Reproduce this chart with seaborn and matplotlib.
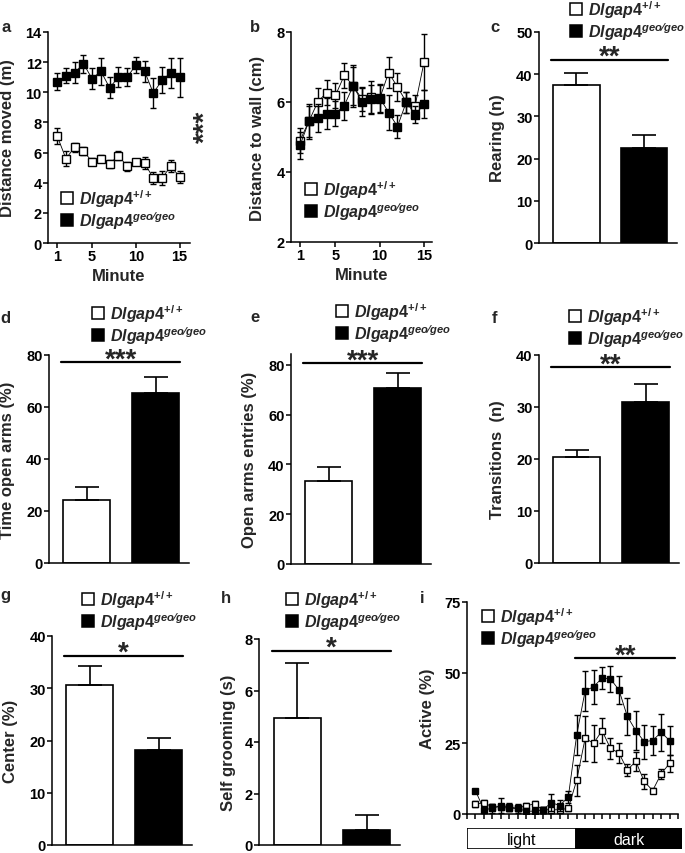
import numpy as np
import pandas as pd
import matplotlib
matplotlib.use("Agg")
import matplotlib.pyplot as plt
from matplotlib.lines import Line2D
import seaborn as sns

# ---- data ----
minutes = list(range(1, 16))

a_wt = [7.1, 5.6, 6.35, 6.1, 5.4, 5.6, 5.25, 5.8, 5.1, 5.35, 5.3, 4.3, 4.3, 5.1, 4.4]
a_wt_err = [0.5, 0.5, 0.3, 0.25, 0.25, 0.25, 0.25, 0.3, 0.3, 0.2, 0.4, 0.4, 0.45, 0.4, 0.4]
a_ko = [10.7, 11.1, 11.3, 11.9, 10.9, 11.4, 10.3, 11.0, 11.0, 11.8, 11.4, 9.95, 10.8, 11.3, 11.0]
a_ko_err = [0.55, 0.5, 0.7, 0.6, 0.7, 0.9, 0.7, 0.65, 0.6, 0.55, 0.7, 1.0, 0.85, 1.0, 1.3]

b_wt = [4.9, 5.45, 6.0, 6.27, 6.19, 6.76, 6.46, 6.08, 6.15, 6.1, 6.84, 6.43, 6.0, 5.9, 7.14]
b_wt_err = [0.35, 0.45, 0.4, 0.35, 0.35, 0.35, 0.55, 0.35, 0.45, 0.4, 0.45, 0.4, 0.3, 0.3, 0.8]
b_ko = [4.76, 5.45, 5.54, 5.67, 5.67, 5.9, 6.46, 6.0, 6.08, 6.12, 5.7, 5.3, 6.0, 5.64, 5.93]
b_ko_err = [0.38, 0.5, 0.4, 0.45, 0.35, 0.4, 0.6, 0.4, 0.42, 0.4, 0.5, 0.33, 0.3, 0.25, 0.4]

hours = list(range(24))
i_wt = [3.5, 4, 2.5, 2.5, 2, 2, 3, 3.5, 1.5, 1.5, 1.5, 2,
        12, 26.8, 25, 29.5, 23.2, 21.6, 15.6, 18.6, 11.5, 8.3, 14.2, 17.9]
i_wt_err = [1, 1, 1, 1, 1, 1, 1, 1, 1, 1, 1, 1,
            5.5, 8, 6.5, 4.5, 3.8, 3.4, 2, 3.4, 2.5, 1, 1.8, 3]
i_ko = [8.3, 1.5, 2, 3, 2.5, 2, 1, 1, 1.5, 4, 3, 6,
        28, 43.6, 45, 48.1, 47.8, 43.9, 34.5, 29.5, 25.6, 26, 28.9, 26]
i_ko_err = [0.5, 1, 1.5, 2.5, 1.5, 1.5, 1, 1, 1, 3, 2, 2,
            7, 7, 6, 4, 4.5, 5, 6.5, 7, 6, 5, 6.5, 5]

groups = ["wt", "geo"]
c_vals, c_err = [37.5, 22.5], [2.7, 3.0]
d_vals, d_err = [24.4, 65.4], [4.8, 6.3]
e_vals, e_err = [33.5, 70.7], [5.5, 6.0]
f_vals, f_err = [20.3, 31.0], [1.5, 3.4]
g_vals, g_err = [30.7, 18.2], [3.5, 2.3]
h_vals, h_err = [4.94, 0.6], [2.14, 0.58]

lab_wt = r"$\mathit{Dlgap4}^{\mathit{+/+}}$"
lab_ko = "$\\mathit{Dlgap4}^{\\mathit{geo\u2044geo}}$"

sns.set_style("ticks")
plt.rcParams["font.family"] = ["Liberation Sans", "DejaVu Sans"]
plt.rcParams["font.weight"] = "bold"
plt.rcParams["axes.labelweight"] = "bold"
plt.rcParams["mathtext.fontset"] = "custom"
plt.rcParams["mathtext.it"] = "Liberation Sans:italic:bold"
plt.rcParams["mathtext.rm"] = "Liberation Sans:bold"
plt.rcParams["mathtext.bf"] = "Liberation Sans:bold"

W, H = 685, 854
fig = plt.figure(figsize=(W / 100, H / 100), dpi=100)


def add_ax(l, r, top, bot):
    return fig.add_axes([l / W, 1 - bot / H, (r - l) / W, (bot - top) / H])


def style(ax, ylabel, lx):
    for s in ["top", "right"]:
        ax.spines[s].set_visible(False)
    for s in ["left", "bottom"]:
        ax.spines[s].set_linewidth(1.1)
        ax.spines[s].set_color("black")
    ax.tick_params(axis="both", length=3.5, width=1.1, pad=1, labelsize=10.5, colors="black")
    ax.set_ylabel(ylabel, fontsize=12, fontweight="bold")
    ax.yaxis.set_label_coords(lx, 0.5)


def legend(ax, x, y, ms=9):
    h = [Line2D([], [], ls="none", marker="s", ms=ms, mfc="white", mec="black", mew=1.1),
         Line2D([], [], ls="none", marker="s", ms=ms, mfc="black", mec="black", mew=1.1)]
    ax.legend(h, [lab_wt, lab_ko], loc="center left", bbox_to_anchor=(x / W, 1 - y / H),
              bbox_transform=fig.transFigure, frameon=False, borderpad=0, borderaxespad=0,
              handlelength=0.8, handletextpad=0.3, labelspacing=0.0, fontsize=11.5)


def sig(ax, x0, x1, y, stars):
    ax.plot([x0, x1], [y, y], color="black", lw=1.6, clip_on=False)
    ax.annotate(stars, xy=((x0 + x1) / 2, y), xytext=(0, -3), textcoords="offset points",
                ha="center", va="baseline", fontsize=20, fontweight="bold", annotation_clip=False)


def panel_label(x, y, s):
    fig.text(x / W, 1 - y / H, s, fontsize=12, fontweight="bold", va="baseline", ha="left")


def line_panel(ax, x, wt, wt_e, ko, ko_e, ms, cap):
    ax.errorbar(x, wt, yerr=wt_e, fmt="none", ecolor="black", elinewidth=1, capsize=cap, capthick=1, zorder=2)
    sns.lineplot(x=x, y=wt, ax=ax, color="black", lw=0.6, marker="s", markersize=ms,
                 markerfacecolor="white", markeredgecolor="black", markeredgewidth=1, zorder=3)
    ax.errorbar(x, ko, yerr=ko_e, fmt="none", ecolor="black", elinewidth=1, capsize=cap, capthick=1, zorder=4)
    sns.lineplot(x=x, y=ko, ax=ax, color="black", lw=0.6, marker="s", markersize=ms,
                 markerfacecolor="black", markeredgecolor="black", markeredgewidth=1, zorder=5)


def bar_panel(ax, vals, errs, ylim, yticks, ylabel, lx):
    df = pd.DataFrame({"group": groups, "value": vals})
    sns.barplot(data=df, x="group", y="value", hue="group", palette=["white", "black"],
                edgecolor="black", linewidth=1.2, width=0.68, legend=False, ax=ax)
    ax.errorbar([0, 1], vals, yerr=[[0, 0], errs], fmt="none", ecolor="black",
                elinewidth=1.2, capsize=8.5, capthick=1.2)
    ax.set_xlim(-0.55, 1.48)
    ax.set_ylim(*ylim)
    ax.set_yticks(yticks)
    ax.set_xticks([])
    ax.set_xlabel("")
    style(ax, ylabel, lx)


# ---- a ----
ax = add_ax(48, 190, 33, 244)
line_panel(ax, minutes, a_wt, a_wt_err, a_ko, a_ko_err, 6, 2.2)
ax.set_xlim(-0.05, 16.2)
ax.set_ylim(0, 14)
ax.set_xticks([1, 5, 10, 15])
ax.set_yticks(range(0, 15, 2))
style(ax, "Distance moved (m)", -0.235)
ax.set_xlabel("Minute", fontsize=12, fontweight="bold")
ax.xaxis.set_label_coords(0.5, -0.12)
legend(ax, 61, 210)
fig.text(206 / W, 1 - 127 / H, "***", rotation=90, fontsize=20, fontweight="bold", ha="center", va="center")
panel_label(1, 32, "a")

# ---- b ----
ax = add_ax(291, 432, 33, 243)
line_panel(ax, minutes, b_wt, b_wt_err, b_ko, b_ko_err, 6, 2.2)
ax.set_xlim(-0.02, 15.9)
ax.set_ylim(2, 8)
ax.set_xticks([1, 5, 10, 15])
ax.set_yticks([2, 4, 6, 8])
style(ax, "Distance to wall (cm)", -0.185)
ax.set_xlabel("Minute", fontsize=12, fontweight="bold")
ax.xaxis.set_label_coords(0.5, -0.12)
legend(ax, 305, 201)
panel_label(250, 32, "b")

# ---- c ----
ax = add_ax(539, 677, 33, 244)
bar_panel(ax, c_vals, c_err, (0, 50), range(0, 51, 10), "Rearing (n)", -0.245)
sig(ax, -0.37, 1.35, 43.4, "**")
legend(ax, 570, 21)
panel_label(490, 32, "c")

# ---- d ----
ax = add_ax(49, 189, 356, 564)
bar_panel(ax, d_vals, d_err, (0, 80), range(0, 81, 20), "Time open arms (%)", -0.24)
sig(ax, -0.37, 1.35, 77.3, "***")
legend(ax, 92, 325)
panel_label(0, 323, "d")

# ---- e ----
ax = add_ax(291, 431, 355, 565)
bar_panel(ax, e_vals, e_err, (0, 84.4), range(0, 81, 20), "Open arms entries (%)", -0.24)
sig(ax, -0.37, 1.35, 80.7, "***")
legend(ax, 336, 323)
panel_label(250, 322, "e")

# ---- f ----
ax = add_ax(539, 679, 356, 564)
bar_panel(ax, f_vals, f_err, (0, 40), range(0, 41, 10), "Transitions  (n)", -0.24)
sig(ax, -0.37, 1.35, 37.7, "**")
legend(ax, 569, 328)
panel_label(492, 323, "f")

# ---- g ----
ax = add_ax(52, 192, 637, 846)
bar_panel(ax, g_vals, g_err, (0, 40), range(0, 41, 10), "Center (%)", -0.24)
sig(ax, -0.37, 1.35, 36.2, "*")
legend(ax, 82, 611)
panel_label(0, 600, "g")

# ---- h ----
ax = add_ax(259, 400, 640, 846)
bar_panel(ax, h_vals, h_err, (0, 8), range(0, 9, 2), "Self grooming (s)", -0.165)
sig(ax, -0.37, 1.35, 7.55, "*")
legend(ax, 286, 611)
panel_label(221, 603, "h")

# ---- i ----
ax = add_ax(467, 678, 603, 815)
line_panel(ax, hours, i_wt, i_wt_err, i_ko, i_ko_err, 5, 2.2)
ax.set_xlim(-1, 24)
ax.set_ylim(0, 75)
ax.set_yticks([0, 25, 50, 75])
ax.set_xticks(range(-1, 25))
ax.set_xticklabels([])
style(ax, "Active (%)", -0.15)
ax.set_xlabel("")
sig(ax, 11.8, 23.7, 55.2, "**")
legend(ax, 482, 628)
panel_label(420, 603, "i")

# light / dark bar under panel i
axb = add_ax(467, 682, 829, 850)
axb.set_xlim(0, 1)
axb.set_ylim(0, 1)
axb.axvspan(0, 0.505, color="white", ec="black", lw=1.2)
axb.axvspan(0.505, 1, color="black", ec="black", lw=1.2)
axb.text(0.2525, 0.45, "light", ha="center", va="center", fontsize=11.5, fontweight="normal", color="black")
axb.text(0.7525, 0.45, "dark", ha="center", va="center", fontsize=11.5, fontweight="normal", color="white")
axb.axis("off")

fig.savefig("out.png", dpi=100)
plt.close()
